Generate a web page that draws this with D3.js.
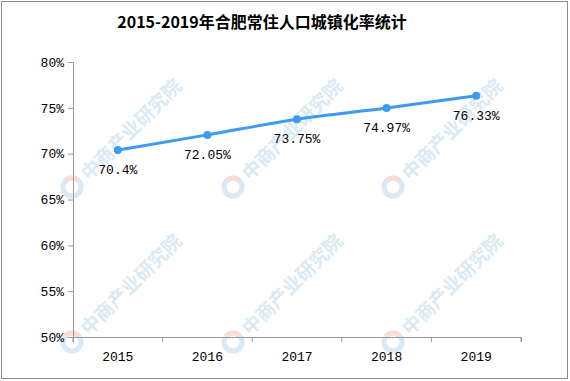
<!DOCTYPE html>
<html><head><meta charset="utf-8">
<script src="https://cdn.jsdelivr.net/npm/d3@7"></script>
<style>body{margin:0;background:#fff}svg{display:block}</style>
</head><body>
<script>
const title = "2015-2019年合肥常住人口城镇化率统计";
const years = ["2015","2016","2017","2018","2019"];
const rates = [70.4, 72.05, 73.75, 74.97, 76.33];
const rateLabels = ["70.4%","72.05%","73.75%","74.97%","76.33%"];
const yTicks = [50,55,60,65,70,75,80];

const W=570,H=381;
const svg=d3.select("body").append("svg").attr("width",W).attr("height",H);
svg.append("rect").attr("width",W).attr("height",H).attr("fill","#fff");

// watermarks
const wm=svg.append("g");
const wmPos=[[72,342],[233,342],[393,342],[72,187],[233,187],[393,187]];
wmPos.forEach(([x,y])=>{
  const g=wm.append("g").attr("transform",`translate(${x},${y}) rotate(-45)`);
  g.append("circle").attr("r",9).attr("cx",0).attr("cy",0).attr("fill","none").attr("stroke","#d9eaf6").attr("stroke-width",5);
  g.append("path").attr("d","M0,-9 A9,9 0 0,1 9,0").attr("fill","none").attr("stroke","#f8ddd2").attr("stroke-width",5);
  g.append("text").attr("x",16).attr("y",8).attr("font-family","Noto Sans CJK SC").attr("font-size",19).attr("font-weight","bold")
    .attr("fill","#d9eaf6").text("中商产业研究院");
});

svg.append("rect").attr("x",1.5).attr("y",1.5).attr("width",W-4).attr("height",H-4).attr("fill","none").attr("stroke","#8c8c8c").attr("stroke-width",1);

svg.append("text").attr("x",262).attr("y",28).attr("text-anchor","middle")
  .attr("font-family","'Noto Sans CJK SC'").attr("font-weight","bold").attr("font-size",16).attr("fill","#000").text(title);

const x=d3.scaleBand().domain(years).range([73,521]);
const y=d3.scaleLinear().domain([50,80]).range([337,62]);

const font="'Liberation Mono','DejaVu Sans Mono',monospace";
const yAxis=svg.append("g").attr("transform","translate(73,0)")
  .call(d3.axisLeft(y).tickValues(yTicks).tickFormat(d=>d+"%").tickSize(5).tickPadding(4));
const xAxis=svg.append("g").attr("transform","translate(0,337)")
  .call(d3.axisBottom(x).tickSize(5).tickPadding(10));
xAxis.selectAll(".tick line").remove();
x.domain().forEach((d,i)=>{
  xAxis.append("line").attr("x1",x(d)).attr("x2",x(d)).attr("y1",0).attr("y2",5).attr("stroke","#999");
});
xAxis.append("line").attr("x1",521).attr("x2",521).attr("y1",0).attr("y2",5).attr("stroke","#999");
[yAxis,xAxis].forEach(a=>{
  a.select(".domain").attr("stroke","#999");
  a.selectAll(".tick line").attr("stroke","#999");
  a.selectAll("text").attr("font-family",font).attr("font-size",13).attr("fill","#000");
});

const cx=d=>x(d)+x.bandwidth()/2;
const line=d3.line().x((d,i)=>cx(years[i])).y(d=>y(d)).curve(d3.curveMonotoneX);
svg.append("path").datum(rates).attr("d",line).attr("fill","none").attr("stroke","#3d9bf0").attr("stroke-width",3);
svg.selectAll("circle.pt").data(rates).enter().append("circle").attr("class","pt")
  .attr("cx",(d,i)=>cx(years[i])).attr("cy",d=>y(d)).attr("r",4).attr("fill","#3d9bf0");
svg.selectAll("text.lbl").data(rates).enter().append("text").attr("class","lbl")
  .attr("x",(d,i)=>cx(years[i])).attr("y",d=>y(d)+24).attr("text-anchor","middle")
  .attr("font-family",font).attr("font-size",13).attr("fill","#000").text((d,i)=>rateLabels[i]);
</script>
</body></html>
